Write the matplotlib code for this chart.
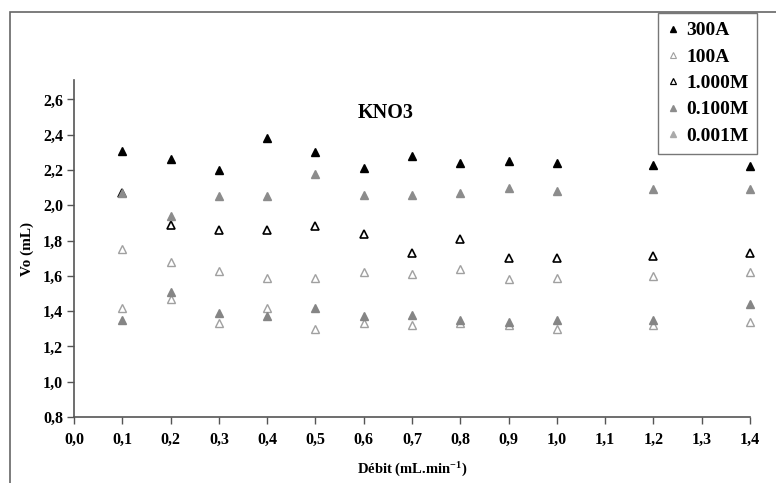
import matplotlib
matplotlib.use("Agg")
import matplotlib.pyplot as plt
from matplotlib.patches import Rectangle
from matplotlib.lines import Line2D

plt.rcParams['font.family'] = ['Liberation Serif', 'DejaVu Serif']
plt.rcParams['font.weight'] = 'bold'
plt.rcParams['mathtext.fontset'] = 'custom'
plt.rcParams['mathtext.rm'] = 'Liberation Serif:bold'
plt.rcParams['mathtext.bf'] = 'Liberation Serif:bold'
plt.rcParams['mathtext.default'] = 'bf'

x = [0.1, 0.2, 0.3, 0.4, 0.5, 0.6, 0.7, 0.8, 0.9, 1.0, 1.2, 1.4]
s300A = [2.31, 2.26, 2.20, 2.38, 2.30, 2.21, 2.28, 2.24, 2.25, 2.24, 2.23, 2.22]
s100A = [1.75, 1.68, 1.63, 1.59, 1.59, 1.62, 1.61, 1.64, 1.58, 1.59, 1.60, 1.62]
s1000M = [2.07, 1.89, 1.86, 1.86, 1.88, 1.84, 1.73, 1.81, 1.70, 1.70, 1.71, 1.73]
s0100M = [2.07, 1.94, 2.05, 2.05, 2.18, 2.06, 2.06, 2.07, 2.10, 2.08, 2.09, 2.09]
s0001M = [1.35, 1.51, 1.39, 1.37, 1.42, 1.37, 1.38, 1.35, 1.34, 1.35, 1.35, 1.44]
s_extra = [1.42, 1.47, 1.33, 1.42, 1.30, 1.33, 1.32, 1.33, 1.32, 1.30, 1.32, 1.34]

xticks = [0.0, 0.1, 0.2, 0.3, 0.4, 0.5, 0.6, 0.7, 0.8, 0.9, 1.0, 1.1, 1.2, 1.3, 1.4]
yticks = [0.8, 1.0, 1.2, 1.4, 1.6, 1.8, 2.0, 2.2, 2.4, 2.6]

W, H = 776, 483
fig = plt.figure(figsize=(W/100, H/100), dpi=100)
ax = fig.add_axes([74/W, (H-417)/H, (750-74)/W, (417-80)/H])

ms = 5.5
kw = dict(linestyle='none', marker='^', ms=ms, clip_on=False)
ax.plot(x, s_extra, mfc='white', mec='#a0a0a0', mew=1.0, **kw)
ax.plot(x, s100A, mfc='white', mec='#a0a0a0', mew=1.0, **kw)
ax.plot(x, s0001M, mfc='#858585', mec='#858585', **kw)
ax.plot(x, s1000M, mfc='white', mec='black', mew=1.2, **kw)
ax.plot(x, s0100M, mfc='#8c8c8c', mec='#8c8c8c', **kw)
ax.plot(x, s300A, mfc='black', mec='black', **kw)

ax.set_xlim(0, 1.4)
ax.set_ylim(0.8, 2.71)
ax.set_xticks(xticks)
ax.set_xticklabels([f"{v:.1f}".replace('.', ',') for v in xticks])
ax.set_yticks(yticks)
ax.set_yticklabels([f"{v:.1f}".replace('.', ',') for v in yticks])
for sp in ['top', 'right']:
    ax.spines[sp].set_visible(False)
for sp in ['left', 'bottom']:
    ax.spines[sp].set_color('#555555')
    ax.spines[sp].set_linewidth(1.2)
ax.tick_params(axis='both', direction='out', length=5, width=1.0, color='#555555',
               labelsize=11.5)
ax.tick_params(axis='x', pad=6)
ax.tick_params(axis='y', pad=3)
for lab in ax.get_xticklabels() + ax.get_yticklabels():
    lab.set_fontweight('bold')

ax.set_xlabel('Débit (mL.min$^{-1}$)', fontsize=10.5, fontweight='bold', labelpad=9)
ax.set_ylabel('Vo (mL)', fontsize=11, fontweight='bold', labelpad=6)

fig.text(386/W, 1-113/H, 'KNO3', fontsize=14.5, fontweight='bold', ha='center', va='center')

# outer frame
fig.patches.append(Rectangle((10/W, -0.1), 1.2, 1-12/H+0.1, transform=fig.transFigure,
                             fill=False, ec='#666666', lw=1.2))

hms = 4.5
handles = [
    Line2D([], [], linestyle='none', marker='^', ms=hms, mfc='black', mec='black'),
    Line2D([], [], linestyle='none', marker='^', ms=hms, mfc='white', mec='#a0a0a0', mew=0.8),
    Line2D([], [], linestyle='none', marker='^', ms=hms, mfc='white', mec='black', mew=0.9),
    Line2D([], [], linestyle='none', marker='^', ms=hms, mfc='#8c8c8c', mec='#8c8c8c'),
    Line2D([], [], linestyle='none', marker='^', ms=hms, mfc='#aaaaaa', mec='#aaaaaa'),
]
labels = ['300A', '100A', '1.000M', '0.100M', '0.001M']
leg = fig.legend(handles, labels, loc='upper left', bbox_to_anchor=(658/W, 1-13/H),
                 prop={'family': 'Liberation Serif', 'weight': 'bold', 'size': 14},
                 frameon=True, fancybox=False, edgecolor='#555555', handlelength=0.6,
                 handletextpad=0.4, labelspacing=0.45, borderpad=0.45, borderaxespad=0)
leg.get_frame().set_linewidth(1.0)

fig.savefig('out.png', dpi=100)
